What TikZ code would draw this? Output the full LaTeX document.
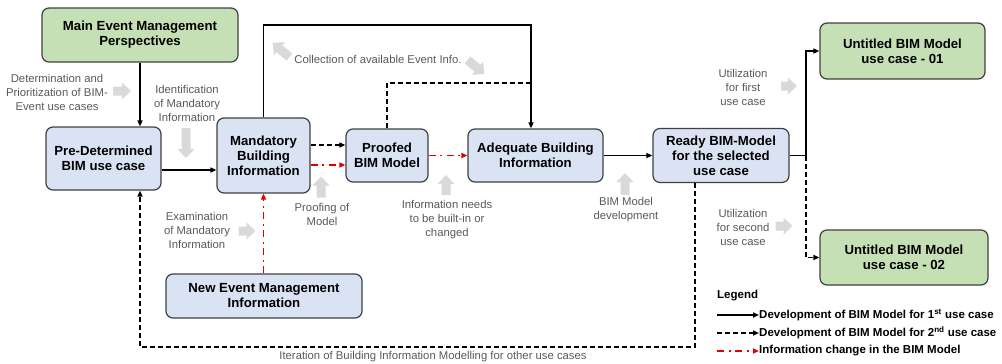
\documentclass[tikz,border=0pt]{standalone}
\usepackage{fontspec}
\setmainfont{Liberation Sans}
\usetikzlibrary{arrows.meta, calc}

\definecolor{boxblue}{HTML}{DAE3F3}
\definecolor{boxgreen}{HTML}{C5E0B4}
\definecolor{boxline}{HTML}{404040}
\definecolor{hintgray}{HTML}{D9D9D9}
\definecolor{hinttext}{HTML}{595959}
\definecolor{chgred}{HTML}{E00000}

\tikzset{
  stage/.style={draw=boxline, line width=1.2pt, rounded corners=7pt, fill=boxblue,
    align=center, inner sep=0pt, font=\fontsize{13.2}{15}\selectfont\bfseries},
  goal/.style={stage, fill=boxgreen},
  hinttxt/.style={text=hinttext, align=center, inner sep=0pt, font=\fontsize{11.3}{14}\selectfont},
  legtxt/.style={anchor=west, inner sep=0pt, font=\fontsize{11.5}{12}\selectfont\bfseries},
  link/.style={line width=1.6pt},
  flow/.style={link, -{Triangle[length=6pt,width=5pt]}},
  twoline/.style={link, dash pattern=on 5pt off 3pt},
  flowtwo/.style={flow, dash pattern=on 5pt off 3pt},
  change/.style={flow, chgred, line width=1.8pt, dash pattern=on 7pt off 4.5pt on 2pt off 4.5pt},
  hint/.pic={\fill[hintgray] (-#1,-4.5) -- (#1-9,-4.5) -- (#1-9,-8.5) -- (#1,0)
    -- (#1-9,8.5) -- (#1-9,4.5) -- (-#1,4.5) -- cycle;}
}

\begin{document}
\begin{tikzpicture}[x=1pt, y=-1pt]
    \useasboundingbox (0,0) rectangle (1002,364);

    % boxes
    \node[goal, minimum width=196pt, minimum height=54pt] (main) at (140,35) {Main Event Management\\Perspectives};
    \node[stage, minimum width=115pt, minimum height=63pt] (predet) at (103.5,158.5) {Pre-Determined\\BIM use case};
    \node[stage, minimum width=93pt, minimum height=75pt] (mandatory) at (263.5,155.5) {Mandatory\\Building\\Information};
    \node[stage, minimum width=82pt, minimum height=53pt] (proofed) at (387,155.5) {Proofed\\BIM Model};
    \node[stage, minimum width=135pt, minimum height=53pt] (adequate) at (535.5,155.5) {Adequate Building\\Information};
    \node[stage, minimum width=136pt, minimum height=54pt] (ready) at (721,155.5) {Ready BIM-Model\\for the selected\\use case};
    \node[goal, minimum width=165pt, minimum height=56pt] (use01) at (902.5,51) {Untitled BIM Model\\use case - 01};
    \node[goal, minimum width=168pt, minimum height=55pt] (use02) at (904,257.5) {Untitled BIM Model\\use case - 02};
    \node[stage, minimum width=196pt, minimum height=44pt] (newevent) at (264,296) {New Event Management\\Information};

    % routing points
    \coordinate (ceil) at (0,25);
    \coordinate (mid) at (0,83);
    \coordinate (drop) at (531,0);
    \coordinate (fork) at (806,0);
    \coordinate (loopA) at (695,347);
    \coordinate (loopB) at (140,347);

    % connectors
    \draw[flow] (main.south) -- (main.south |- predet.north);
    \draw[flow] ([yshift=-11.5pt]predet.east) -- ([yshift=-11.5pt]predet.east -| mandatory.west);
    \draw[flow] (mandatory.north) |- (ceil -| drop) -- (drop |- adequate.north);
    \draw[twoline] (proofed.north) |- (mid -| drop);
    \draw[flowtwo] ([yshift=10.5pt]mandatory.east) -- ([yshift=10.5pt]mandatory.east -| proofed.west);
    \draw[change] ([yshift=-9.5pt]mandatory.east) -- ([yshift=-9.5pt]mandatory.east -| proofed.west);
    \draw[change] (proofed.east) -- (adequate.west);
    \draw[flow] (adequate.east) -- (ready.west);
    \draw[flow] (ready.east) -- (fork |- ready.east) |- (use01.west);
    \draw[flowtwo] (fork |- ready.east) |- (use02.west);
    \draw[flowtwo] (loopA |- ready.south) -- (loopA) -- (loopB) -- (loopB |- predet.south);
    \draw[change] (mandatory.south |- newevent.north) -- (mandatory.south);

    % grey hints
    \node[hinttxt] (determ) at (57,92) {Determination and\\Prioritization of BIM-\\Event use cases};
    \pic at (122,91) {hint=9};
    \node[hinttxt] (ident) at (187,103) {Identification\\of Mandatory\\Information};
    \pic[rotate=-90] at (186,143) {hint=15};
    \node[hinttxt] (collect) at (378,59) {Collection of available Event Info.};
    \pic[rotate=140] at (281,50) {hint=11};
    \pic[rotate=-40] at (476,67) {hint=11};
    \node[hinttxt] (proofing) at (322,214) {Proofing of\\Model};
    \pic[rotate=90] at (321,187) {hint=10.5};
    \node[hinttxt] (needs) at (447,220) {Information needs\\to be built-in or\\changed};
    \pic[rotate=90] at (446,185) {hint=10};
    \node[hinttxt] (exam) at (197,230) {Examination\\of Mandatory\\Information};
    \pic at (247,231) {hint=8.5};
    \node[hinttxt] (bimdev) at (626,210) {BIM Model\\development};
    \pic[rotate=90] at (625,184) {hint=11};
    \node[hinttxt] (util1) at (743,87) {Utilization\\for first\\use case};
    \pic at (789,86) {hint=8};
    \node[hinttxt] (util2) at (743,227) {Utilization\\for second\\use case};
    \pic at (784,226) {hint=8.5};
    \node[hinttxt] (iter) at (433,357) {Iteration of Building Information Modelling for other use cases};

    % legend
    \node[legtxt] (legend) at (717,296) {Legend};
    \node[legtxt] (leg1) at (759,315) {Development of BIM Model for 1\textsuperscript{st} use case};
    \node[legtxt] (leg2) at (759,333) {Development of BIM Model for 2\textsuperscript{nd} use case};
    \node[legtxt] (leg3) at (759,351) {Information change in the BIM Model};
    \draw[flow] ([xshift=-42pt]leg1.west) -- (leg1.west);
    \draw[flowtwo] ([xshift=-42pt]leg2.west) -- (leg2.west);
    \draw[change] ([xshift=-42pt]leg3.west) -- (leg3.west);
\end{tikzpicture}
\end{document}
